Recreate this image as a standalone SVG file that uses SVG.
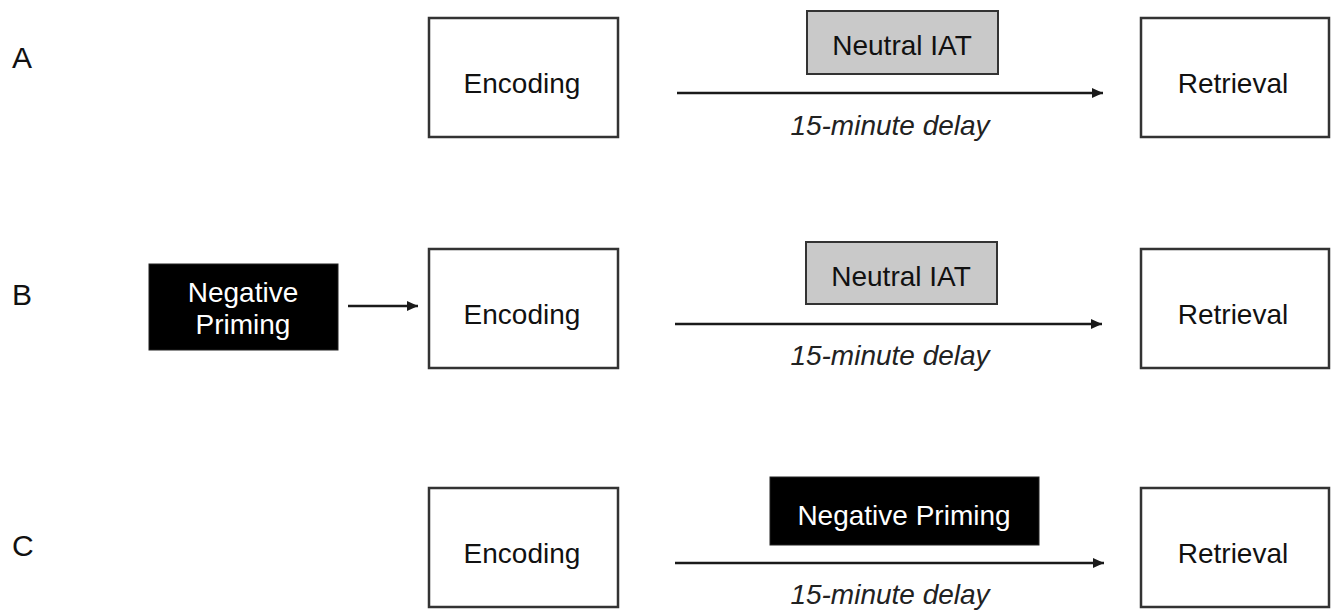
<svg xmlns="http://www.w3.org/2000/svg" width="1339" height="614" viewBox="0 0 1339 614">
<style>
text{font-family:"Liberation Sans",Arial,sans-serif;font-size:28px;fill:#111}
.lbl{text-anchor:start;font-size:30px}
.c{text-anchor:middle}
.w{fill:#fff}
.it{font-style:italic;fill:#222}
.box{fill:#fff;stroke:#333;stroke-width:2.5}
.gray{fill:#c9c9c9;stroke:#333;stroke-width:2}
.blk{fill:#000;stroke:#222;stroke-width:1}
.arr{stroke:#1a1a1a;stroke-width:2.6;fill:none;marker-end:url(#ah)}
</style>
<defs>
<marker id="ah" markerUnits="userSpaceOnUse" markerWidth="12" markerHeight="11" refX="11" refY="5" orient="auto">
<path d="M0,0 L11,5 L0,10 z" fill="#1a1a1a"/>
</marker>
</defs>
<g id="labels">
<text class="lbl" x="12" y="68">A</text>
<text class="lbl" x="12" y="305">B</text>
<text class="lbl" x="12" y="556">C</text>
</g>
<g id="encodingA"><rect class="box" x="429" y="18" width="189" height="119"/><text class="c" x="522" y="93">Encoding</text></g>
<g id="iatA"><rect class="gray" x="807" y="11" width="191" height="63"/><text class="c" x="902" y="55">Neutral IAT</text></g>
<g id="delayA"><text class="c it" x="890" y="135">15-minute delay</text></g>
<g id="retrievalA"><rect class="box" x="1141" y="18" width="188" height="119"/><text class="c" x="1233" y="93">Retrieval</text></g>

<g id="primingB"><rect class="blk" x="149" y="264" width="189" height="86"/><text class="c w" x="243" y="302">Negative</text><text class="c w" x="243" y="334">Priming</text></g>
<g id="encodingB"><rect class="box" x="429" y="249" width="189" height="119"/><text class="c" x="522" y="324">Encoding</text></g>
<g id="iatB"><rect class="gray" x="806" y="242" width="191" height="62"/><text class="c" x="901" y="286">Neutral IAT</text></g>
<g id="delayB"><text class="c it" x="890" y="365">15-minute delay</text></g>
<g id="retrievalB"><rect class="box" x="1141" y="249" width="188" height="119"/><text class="c" x="1233" y="324">Retrieval</text></g>

<g id="encodingC"><rect class="box" x="429" y="488" width="189" height="119"/><text class="c" x="522" y="563">Encoding</text></g>
<g id="primingC"><rect class="blk" x="770" y="477" width="269" height="68"/><text class="c w" x="904" y="525">Negative Priming</text></g>
<g id="delayC"><text class="c it" x="890" y="604">15-minute delay</text></g>
<g id="retrievalC"><rect class="box" x="1141" y="488" width="188" height="119"/><text class="c" x="1233" y="563">Retrieval</text></g>

<g id="connectors">
<line class="arr" x1="677" y1="93" x2="1103" y2="93"/>
<line class="arr" x1="348" y1="306" x2="418" y2="306"/>
<line class="arr" x1="675" y1="324" x2="1102" y2="324"/>
<line class="arr" x1="675" y1="563" x2="1104" y2="563"/>
</g>
</svg>
